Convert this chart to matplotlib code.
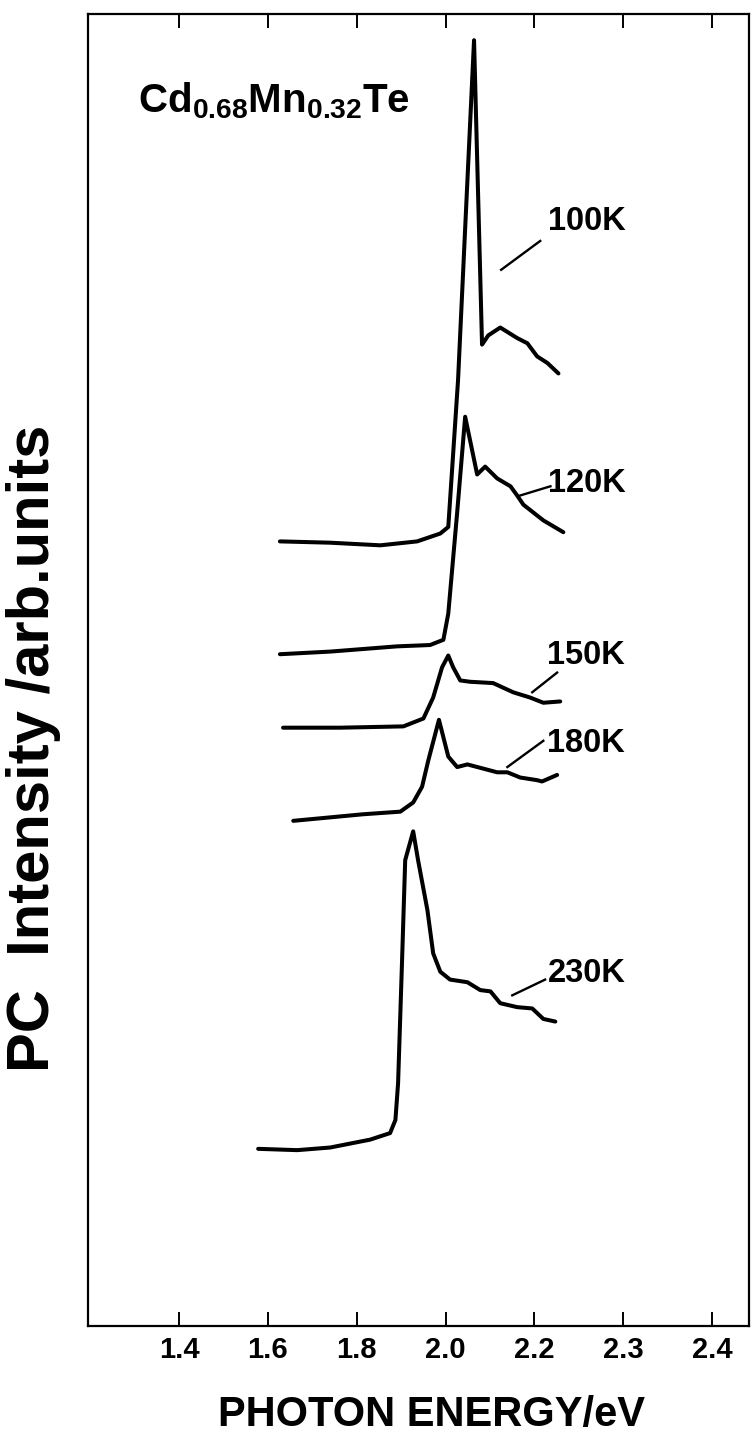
import matplotlib
matplotlib.use("Agg")
import matplotlib.pyplot as plt

# ----------------------------
# DATA (energy on a uniform 0.2 eV/tick scale, intensity arb. units)
# ----------------------------
e_100 = [1.627, 1.740, 1.853, 1.936, 1.988, 2.006, 2.028, 2.046, 2.064,
         2.082, 2.096, 2.123, 2.161, 2.184, 2.206, 2.229, 2.254]
i_100 = [59.8, 59.7, 59.5, 59.8, 60.4, 60.9, 72.1, 85.1, 98.0,
         74.8, 75.5, 76.1, 75.3, 74.9, 73.9, 73.4, 72.6]

e_120 = [1.627, 1.740, 1.891, 1.965, 1.995, 2.006, 2.026, 2.044, 2.071,
         2.089, 2.116, 2.146, 2.161, 2.175, 2.220, 2.265]
i_120 = [51.2, 51.4, 51.8, 51.9, 52.3, 54.3, 62.0, 69.3, 64.9,
         65.5, 64.6, 64.0, 63.3, 62.6, 61.4, 60.5]

e_150 = [1.634, 1.763, 1.905, 1.950, 1.972, 1.992, 2.006, 2.017, 2.033,
         2.055, 2.107, 2.152, 2.190, 2.220, 2.258]
i_150 = [45.6, 45.6, 45.7, 46.3, 47.9, 50.2, 51.1, 50.2, 49.2,
         49.1, 49.0, 48.3, 47.9, 47.5, 47.6]

e_180 = [1.657, 1.814, 1.898, 1.927, 1.947, 1.961, 1.985, 2.006, 2.026,
         2.049, 2.116, 2.139, 2.168, 2.206, 2.217, 2.251]
i_180 = [38.5, 39.0, 39.2, 39.9, 41.1, 43.1, 46.2, 43.4, 42.6,
         42.8, 42.2, 42.2, 41.8, 41.6, 41.5, 42.0]

e_230 = [1.578, 1.666, 1.740, 1.830, 1.875, 1.887, 1.893, 1.902, 1.909,
         1.927, 1.938, 1.959, 1.972, 1.988, 2.010, 2.049, 2.078, 2.101,
         2.123, 2.161, 2.195, 2.220, 2.247]
i_230 = [13.5, 13.4, 13.6, 14.2, 14.7, 15.7, 18.5, 27.9, 35.5,
         37.7, 35.5, 31.7, 28.4, 27.0, 26.4, 26.2, 25.6, 25.5,
         24.6, 24.3, 24.2, 23.4, 23.2]

curves = [(e_100, i_100), (e_120, i_120), (e_150, i_150),
          (e_180, i_180), (e_230, i_230)]

temps = ["100K", "120K", "150K", "180K", "230K"]
label_e = [2.230, 2.230, 2.228, 2.228, 2.230]
label_i = [84.2, 64.2, 51.1, 44.4, 26.9]

# leader lines: start/end energy and intensity
lead_e0 = [2.125, 2.168, 2.195, 2.139, 2.150]
lead_i0 = [80.5, 63.3, 48.3, 42.6, 25.2]
lead_e1 = [2.213, 2.236, 2.251, 2.220, 2.224]
lead_i1 = [82.7, 64.0, 49.8, 44.6, 26.4]

tick_pos = [1.4, 1.6, 1.8, 2.0, 2.2, 2.4, 2.6]
tick_lab = ["1.4", "1.6", "1.8", "2.0", "2.2", "2.3", "2.4"]

# ----------------------------
# STYLE
# ----------------------------
plt.rcParams["font.family"] = ["Liberation Sans", "DejaVu Sans"]
plt.rcParams["font.weight"] = "bold"
plt.rcParams["mathtext.fontset"] = "custom"
plt.rcParams["mathtext.rm"] = "Liberation Sans:bold"
plt.rcParams["mathtext.it"] = "Liberation Sans:bold"
plt.rcParams["mathtext.bf"] = "Liberation Sans:bold"

fig = plt.figure(figsize=(7.53, 14.4), dpi=100)
ax = fig.add_axes([0.1169, 0.0792, 0.8778, 0.9111])

for e, i in curves:
    ax.plot(e, i, color="black", lw=2.9, solid_joinstyle="round",
            solid_capstyle="round")

for k in range(len(temps)):
    ax.plot([lead_e0[k], lead_e1[k]], [lead_i0[k], lead_i1[k]],
            color="black", lw=1.7)
    ax.text(label_e[k], label_i[k], temps[k], fontsize=23.5,
            fontweight="bold", ha="left", va="center")

ax.text(0.0756, 0.925, r"Cd$_{0.68}$Mn$_{0.32}$Te", transform=ax.transAxes,
        fontsize=29, fontweight="bold", ha="left", va="baseline")

# ----------------------------
# AXES
# ----------------------------
ax.set_xlim(1.195, 2.683)
ax.set_ylim(0, 100)
ax.set_xticks(tick_pos)
ax.set_xticklabels(tick_lab, fontsize=21, fontweight="bold")
ax.set_yticks([])
ax.tick_params(axis="x", direction="in", top=True, bottom=True,
               length=10, width=1.4, pad=7)
for s in ax.spines.values():
    s.set_linewidth(1.6)

ax.set_xlabel("PHOTON ENERGY/eV", fontsize=30, fontweight="bold",
              va="center")
ax.xaxis.set_label_coords(0.520, -0.0678)
ax.set_ylabel("PC  Intensity /arb.units", fontsize=43, fontweight="bold",
              va="center")
ax.yaxis.set_label_coords(-0.083, 0.44)

plt.savefig("out.png", dpi=100)
